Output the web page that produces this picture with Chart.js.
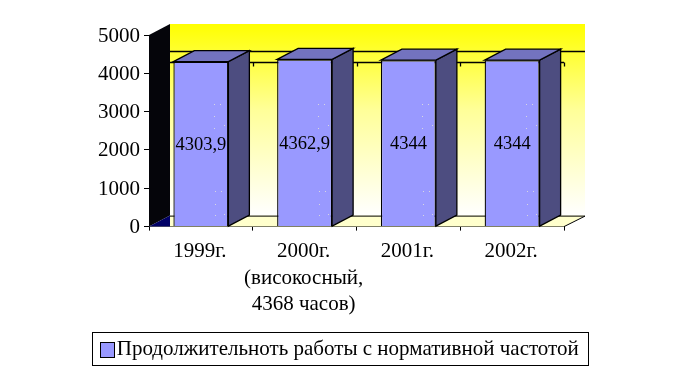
<!DOCTYPE html>
<html>
<head>
<meta charset="utf-8">
<style>
  html, body { margin: 0; padding: 0; background: #fff; }
</style>
<script src="https://cdn.jsdelivr.net/npm/chart.js@4"></script>
</head>
<body>
<canvas id="chart" width="680" height="373"></canvas>
<script>
const categories = [
  "1999г.",
  ["2000г.", "(високосный,", "4368 часов)"],
  "2001г.",
  "2002г."
];
const hours = [4303.9, 4362.9, 4344, 4344];
const hourLabels = ["4303,9", "4362,9", "4344", "4344"];
const yTicks = [0, 1000, 2000, 3000, 4000, 5000];
const refValue = 4305;
const seriesName = "Продолжительноть работы с нормативной частотой";

const FONT = "'Liberation Serif'";
const DEPTH_X = 21;
const DEPTH_Y = 11;
// светлые точки на передней грани столбца, от правого нижнего угла
const specks = [[-14, -122], [-8, -122], [-14, -110], [-14, -98], [-4, -101], [-13, -35], [-7, -35], [-13, -22], [-13, -11], [-4, -12]];

// стены и пол рисуем до столбцов
const walls = {
  id: "walls",
  beforeDatasetsDraw(chart) {
    const { ctx, chartArea: a, scales } = chart;
    const x0 = a.left, x1 = a.right, top = a.top, bot = a.bottom;
    ctx.save();

    const grad = ctx.createLinearGradient(0, top - DEPTH_Y, 0, bot - DEPTH_Y);
    grad.addColorStop(0, "#ffff00");
    grad.addColorStop(0.45, "#ffff99");
    grad.addColorStop(1, "#ffffff");
    ctx.fillStyle = grad;
    ctx.fillRect(x0 + DEPTH_X, top - DEPTH_Y, x1 - x0, bot - top);

    // пол
    ctx.fillStyle = "#ffffcc";
    ctx.strokeStyle = "#000";
    ctx.lineWidth = 1;
    ctx.beginPath();
    ctx.moveTo(x0, bot);
    ctx.lineTo(x0 + DEPTH_X, bot - DEPTH_Y);
    ctx.lineTo(x1 + DEPTH_X, bot - DEPTH_Y);
    ctx.lineTo(x1, bot);
    ctx.closePath();
    ctx.fill();
    ctx.beginPath();
    ctx.moveTo(x0 + DEPTH_X, bot - DEPTH_Y + 0.5);
    ctx.lineTo(x1 + DEPTH_X, bot - DEPTH_Y + 0.5);
    ctx.lineTo(x1, bot);
    ctx.stroke();

    // левая стена
    ctx.fillStyle = "#05050a";
    ctx.beginPath();
    ctx.moveTo(x0, top);
    ctx.lineTo(x0 + DEPTH_X, top - DEPTH_Y);
    ctx.lineTo(x0 + DEPTH_X, bot - DEPTH_Y);
    ctx.lineTo(x0, bot);
    ctx.closePath();
    ctx.fill();
    ctx.fillStyle = "#000066";
    ctx.beginPath();
    ctx.moveTo(x0, bot);
    ctx.lineTo(x0 + DEPTH_X, bot - DEPTH_Y);
    ctx.lineTo(x0 + DEPTH_X, bot);
    ctx.closePath();
    ctx.fill();

    // линии на уровне refValue: задняя и передняя с засечками
    const yr = Math.round(scales.y.getPixelForValue(refValue)) + 0.5;
    ctx.lineWidth = 1.3;
    ctx.beginPath();
    ctx.moveTo(x0 + DEPTH_X, yr - DEPTH_Y);
    ctx.lineTo(x1 + DEPTH_X, yr - DEPTH_Y);
    ctx.moveTo(x0 + DEPTH_X, yr);
    ctx.lineTo(x1, yr);
    categories.forEach((c, i) => {
      const tx = Math.round(scales.x.getPixelForValue(i + 0.5)) + 0.5;
      ctx.moveTo(tx, yr);
      ctx.lineTo(tx, yr + 4);
    });
    ctx.stroke();
    ctx.restore();
  }
};

// боковая и верхняя грани столбцов, подписи значений
const boxes = {
  id: "boxes",
  afterDatasetsDraw(chart) {
    const { ctx } = chart;
    const bars = chart.getDatasetMeta(0).data;
    ctx.save();
    ctx.strokeStyle = "#000";
    ctx.lineWidth = 1.3;
    bars.forEach(bar => {
      const r = bar.x + bar.width / 2;
      const l = bar.x - bar.width / 2;
      const t = bar.y;
      const b = bar.base;
      ctx.fillStyle = "#4d4d80";
      ctx.beginPath();
      ctx.moveTo(r, t);
      ctx.lineTo(r + DEPTH_X, t - DEPTH_Y);
      ctx.lineTo(r + DEPTH_X, b - DEPTH_Y);
      ctx.lineTo(r, b);
      ctx.closePath();
      ctx.fill();
      ctx.stroke();
      ctx.fillStyle = "#7373bf";
      ctx.beginPath();
      ctx.moveTo(l, t);
      ctx.lineTo(l + DEPTH_X, t - DEPTH_Y);
      ctx.lineTo(r + DEPTH_X, t - DEPTH_Y);
      ctx.lineTo(r, t);
      ctx.closePath();
      ctx.fill();
      ctx.stroke();
      ctx.fillStyle = "#d8d8e0";
      specks.forEach(s => ctx.fillRect(Math.round(r) + s[0], Math.round(b) + s[1], 1, 1));
    });
    ctx.fillStyle = "#000";
    ctx.font = "18.5px " + FONT;
    ctx.textAlign = "center";
    ctx.textBaseline = "middle";
    bars.forEach((bar, i) => {
      ctx.fillText(hourLabels[i], bar.x, (bar.y + bar.base) / 2 + 1);
    });
    ctx.restore();
  }
};

// рамка вокруг легенды и образец цвета
const legendFrame = {
  id: "legendFrame",
  afterDraw(chart) {
    const { ctx, legend } = chart;
    const hit = legend.legendHitBoxes[0];
    const cy = Math.round(hit.top + hit.height / 2);
    ctx.save();
    ctx.strokeStyle = "#000";
    ctx.lineWidth = 1;
    ctx.strokeRect(92.5, cy - 17.5, 496, 33);
    ctx.fillStyle = "#ffffff";
    ctx.fillRect(Math.round(hit.left) - 1, cy - 9, 19, 18);
    ctx.fillStyle = "#9999ff";
    ctx.fillRect(Math.round(hit.left) + 2.5, cy - 7.5, 14, 15);
    ctx.strokeRect(Math.round(hit.left) + 2.5, cy - 7.5, 14, 15);
    ctx.restore();
  }
};

new Chart(document.getElementById("chart"), {
  type: "bar",
  data: {
    labels: categories,
    datasets: [{
      label: seriesName,
      data: hours,
      backgroundColor: "#9999ff",
      borderColor: "#000",
      borderWidth: 1.3,
      barPercentage: 0.53,
      categoryPercentage: 1
    }]
  },
  plugins: [walls, boxes, legendFrame],
  options: {
    responsive: false,
    animation: false,
    layout: { padding: { left: 0, right: 3, top: 35, bottom: 3 } },
    plugins: {
      tooltip: { enabled: false },
      legend: {
        position: "bottom",
        labels: {
          color: "#000",
          font: { family: FONT, size: 21 },
          boxWidth: 8,
          boxHeight: 15,
          padding: 10
        }
      }
    },
    scales: {
      x: {
        afterFit(s) { s.height += 3; },
        grid: { display: true, drawOnChartArea: false, color: "#000", tickLength: 4 },
        border: { color: "#000" },
        ticks: {
          color: "#000",
          font: { family: FONT, size: 21, lineHeight: 1.26 },
          maxRotation: 0,
          autoSkip: false,
          padding: 8,
          labelOffset: -1
        }
      },
      y: {
        min: 0,
        max: 5000,
        afterFit(s) { s.width = 149; },
        afterBuildTicks(s) { s.ticks = yTicks.map(v => ({ value: v })); },
        grid: { display: true, drawOnChartArea: false, color: "#000", tickLength: 5 },
        border: { color: "#000" },
        ticks: {
          color: "#000",
          font: { family: FONT, size: 21 },
          padding: 4,
          labelOffset: 1,
          callback: v => String(v)
        }
      },
      // пустая ось справа оставляет место под глубину и центрирует легенду
      side: {
        position: "right",
        afterFit(s) { s.width = 113; },
        grid: { display: false },
        border: { display: false },
        ticks: { display: false }
      }
    }
  }
});
</script>
</body>
</html>
